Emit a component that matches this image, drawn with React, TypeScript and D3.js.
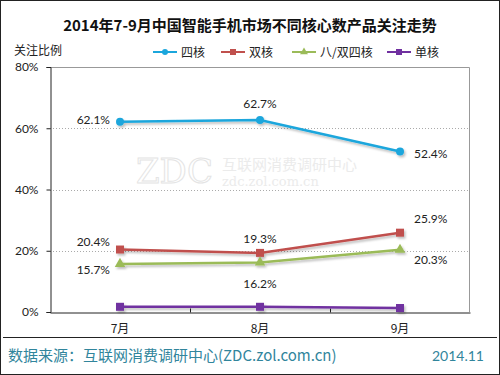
import { useEffect, useRef } from 'react';
import * as d3 from 'd3';

const MONTHS = ['7月', '8月', '9月'];
const QUAD = [62.1, 62.7, 52.4];
const DUAL = [20.4, 19.3, 25.9];
const OCTA = [15.7, 16.2, 20.3];
const SINGLE = [1.7, 1.7, 1.3];
const Y_TICKS = [0, 20, 40, 60, 80];

const SERIES = [
  { name: '四核', values: QUAD, color: '#1ba6dc', shape: 'circle' },
  { name: '双核', values: DUAL, color: '#c0504d', shape: 'square' },
  { name: '八/双四核', values: OCTA, color: '#9bbb59', shape: 'triangle' },
  { name: '单核', values: SINGLE, color: '#7030a0', shape: 'square' },
];

// label offsets per series / point (dx, dy, anchor)
const LABEL_POS = [
  [[-10, -2, 'end'], [0, -16, 'middle'], [14, 2, 'start']],
  [[-10, -8, 'end'], [0, -14, 'middle'], [14, -14, 'start']],
  [[-10, 6, 'end'], [0, 22, 'middle'], [14, 10, 'start']],
  null,
];

const FONT = 'Lato, "Noto Sans CJK SC", sans-serif';
const CJK = '"Noto Sans CJK SC", sans-serif';

const App = () => {
  const svgRef = useRef(null);

  useEffect(() => {
    const width = 500;
    const height = 375;
    const margin = { top: 67, right: 30, bottom: 63, left: 50 };

    d3.select(svgRef.current).selectAll('*').remove();
    const svg = d3.select(svgRef.current)
      .attr('width', width).attr('height', height)
      .style('font-family', FONT);

    const defs = svg.append('defs');
    const f = defs.append('filter').attr('id', 'shadow')
      .attr('x', '-20%').attr('y', '-50%').attr('width', '140%').attr('height', '200%');
    f.append('feDropShadow').attr('dx', 1.5).attr('dy', 2).attr('stdDeviation', 1.2)
      .attr('flood-color', '#000').attr('flood-opacity', 0.25);

    svg.append('rect').attr('x', 0.5).attr('y', 0.5)
      .attr('width', width - 1).attr('height', height - 1)
      .attr('fill', '#fff').attr('stroke', '#222');

    const x = d3.scaleBand()
      .domain(MONTHS)
      .range([margin.left, width - margin.right]);

    const y = d3.scaleLinear()
      .domain([0, 80])
      .range([height - margin.bottom, margin.top]);

    const cx = (m) => x(m) + x.bandwidth() / 2;

    // title
    svg.append('text')
      .attr('x', 250).attr('y', 31)
      .attr('text-anchor', 'middle')
      .style('font-size', '15px').style('font-weight', 'bold')
      .style('font-family', CJK)
      .attr('fill', '#111')
      .text('2014年7-9月中国智能手机市场不同核心数产品关注走势');

    svg.append('text')
      .attr('x', 14).attr('y', 55)
      .style('font-size', '12px').attr('fill', '#222')
      .style('font-family', CJK)
      .text('关注比例');

    // watermark
    const wm = svg.append('g').attr('fill', '#ebebeb');
    wm.append('text').attr('x', 136).attr('y', 183)
      .style('font-family', '"DejaVu Serif", serif').style('font-size', '34px')
      .attr('fill', 'none').attr('stroke', '#e4e4e4').attr('stroke-width', 1)
      .text('ZDC');
    wm.append('text').attr('x', 222).attr('y', 170)
      .style('font-size', '15px')
      .style('font-family', CJK)
      .text('互联网消费调研中心');
    wm.append('text').attr('x', 222).attr('y', 186)
      .style('font-size', '13px').style('font-family', '"DejaVu Serif", serif')
      .text('zdc.zol.com.cn');

    // grid
    svg.append('g')
      .selectAll('line')
      .data(Y_TICKS.filter(d => d > 0 && d < 80))
      .join('line')
      .attr('x1', margin.left).attr('x2', width - margin.right)
      .attr('y1', d => Math.round(y(d)) + 0.5).attr('y2', d => Math.round(y(d)) + 0.5)
      .attr('stroke', '#aaa').attr('stroke-dasharray', '1,2');

    // plot frame top/right
    svg.append('path')
      .attr('d', `M${margin.left},${margin.top + 0.5}H${width - margin.right - 0.5}V${height - margin.bottom}`)
      .attr('fill', 'none').attr('stroke', '#999');

    // axes
    const yAxis = svg.append('g')
      .attr('transform', `translate(${margin.left + 0.5},0)`)
      .call(d3.axisLeft(y).tickValues(Y_TICKS).tickFormat(d => `${d}%`).tickSize(4).tickPadding(8));
    yAxis.selectAll('text').style('font-size', '12px').attr('fill', '#222').style('font-family', FONT);
    yAxis.selectAll('.domain, .tick line').attr('stroke', '#222');

    const xAxis = svg.append('g')
      .attr('transform', `translate(0,${height - margin.bottom + 0.5})`)
      .call(d3.axisBottom(x).tickSize(0).tickPadding(12));
    xAxis.selectAll('text').style('font-size', '12px').attr('fill', '#222')
      .style('font-family', CJK);
    xAxis.selectAll('.domain').attr('stroke', '#222');
    xAxis.selectAll('.bound')
      .data(MONTHS.slice(1))
      .join('line')
      .attr('x1', d => x(d) + 0.5).attr('x2', d => x(d) + 0.5)
      .attr('y1', 0).attr('y2', -4)
      .attr('stroke', '#222');

    const marker = (g, shape, color, size) => {
      if (shape === 'circle') {
        g.append('circle').attr('r', size / 2).attr('fill', color);
      } else if (shape === 'square') {
        g.append('rect').attr('x', -size / 2).attr('y', -size / 2)
          .attr('width', size).attr('height', size).attr('fill', color);
      } else {
        g.append('path').attr('d', d3.symbol(d3.symbolTriangle, size * size * 0.75)())
          .attr('fill', color);
      }
    };

    const line = d3.line()
      .x((d, i) => cx(MONTHS[i]))
      .y(d => y(d));

    SERIES.forEach((s, si) => {
      const g = svg.append('g').attr('filter', 'url(#shadow)');
      g.append('path')
        .datum(s.values)
        .attr('d', line)
        .attr('fill', 'none')
        .attr('stroke', s.color)
        .attr('stroke-width', 2.5);
      s.values.forEach((v, i) => {
        const mg = g.append('g').attr('transform', `translate(${cx(MONTHS[i])},${y(v)})`);
        marker(mg, s.shape, s.color, 8);
      });
      const lp = LABEL_POS[si];
      if (lp) {
        s.values.forEach((v, i) => {
          const [dx, dy, anchor] = lp[i];
          svg.append('text')
            .attr('x', cx(MONTHS[i]) + dx)
            .attr('y', y(v) + dy + 4)
            .attr('text-anchor', anchor)
            .style('font-size', '12px').attr('fill', '#222')
            .text(`${v.toFixed(1)}%`);
        });
      }
    });

    // legend
    const legendX = [153, 221, 292, 387];
    const lg = svg.append('g').attr('transform', 'translate(0,52)');
    SERIES.forEach((s, i) => {
      const g = lg.append('g').attr('transform', `translate(${legendX[i]},0)`);
      g.append('line').attr('x1', 0).attr('x2', 24).attr('stroke', s.color).attr('stroke-width', 2);
      const mg = g.append('g').attr('transform', 'translate(12,0)');
      marker(mg, s.shape, s.color, 6);
      g.append('text').attr('x', 28).attr('y', 4.5)
        .style('font-size', '12px').attr('fill', '#222')
        .style('font-family', CJK)
        .text(s.name);
    });

    // footer
    svg.append('line')
      .attr('x1', 3).attr('x2', width - 3)
      .attr('y1', 337.5).attr('y2', 337.5)
      .attr('stroke', '#222');
    svg.append('text')
      .attr('x', 8).attr('y', 361)
      .style('font-size', '15px').attr('fill', '#31859c')
      .style('font-family', CJK)
      .text('数据来源：互联网消费调研中心(ZDC.zol.com.cn)');
    svg.append('text')
      .attr('x', 484).attr('y', 361)
      .attr('text-anchor', 'end')
      .style('font-size', '14px').attr('fill', '#31859c')
      .text('2014.11');
  }, []);

  return (
    <div style={{ position: 'absolute', left: 0, top: 0 }}>
      <svg ref={svgRef} style={{ display: 'block' }} />
    </div>
  );
};

export default App;
